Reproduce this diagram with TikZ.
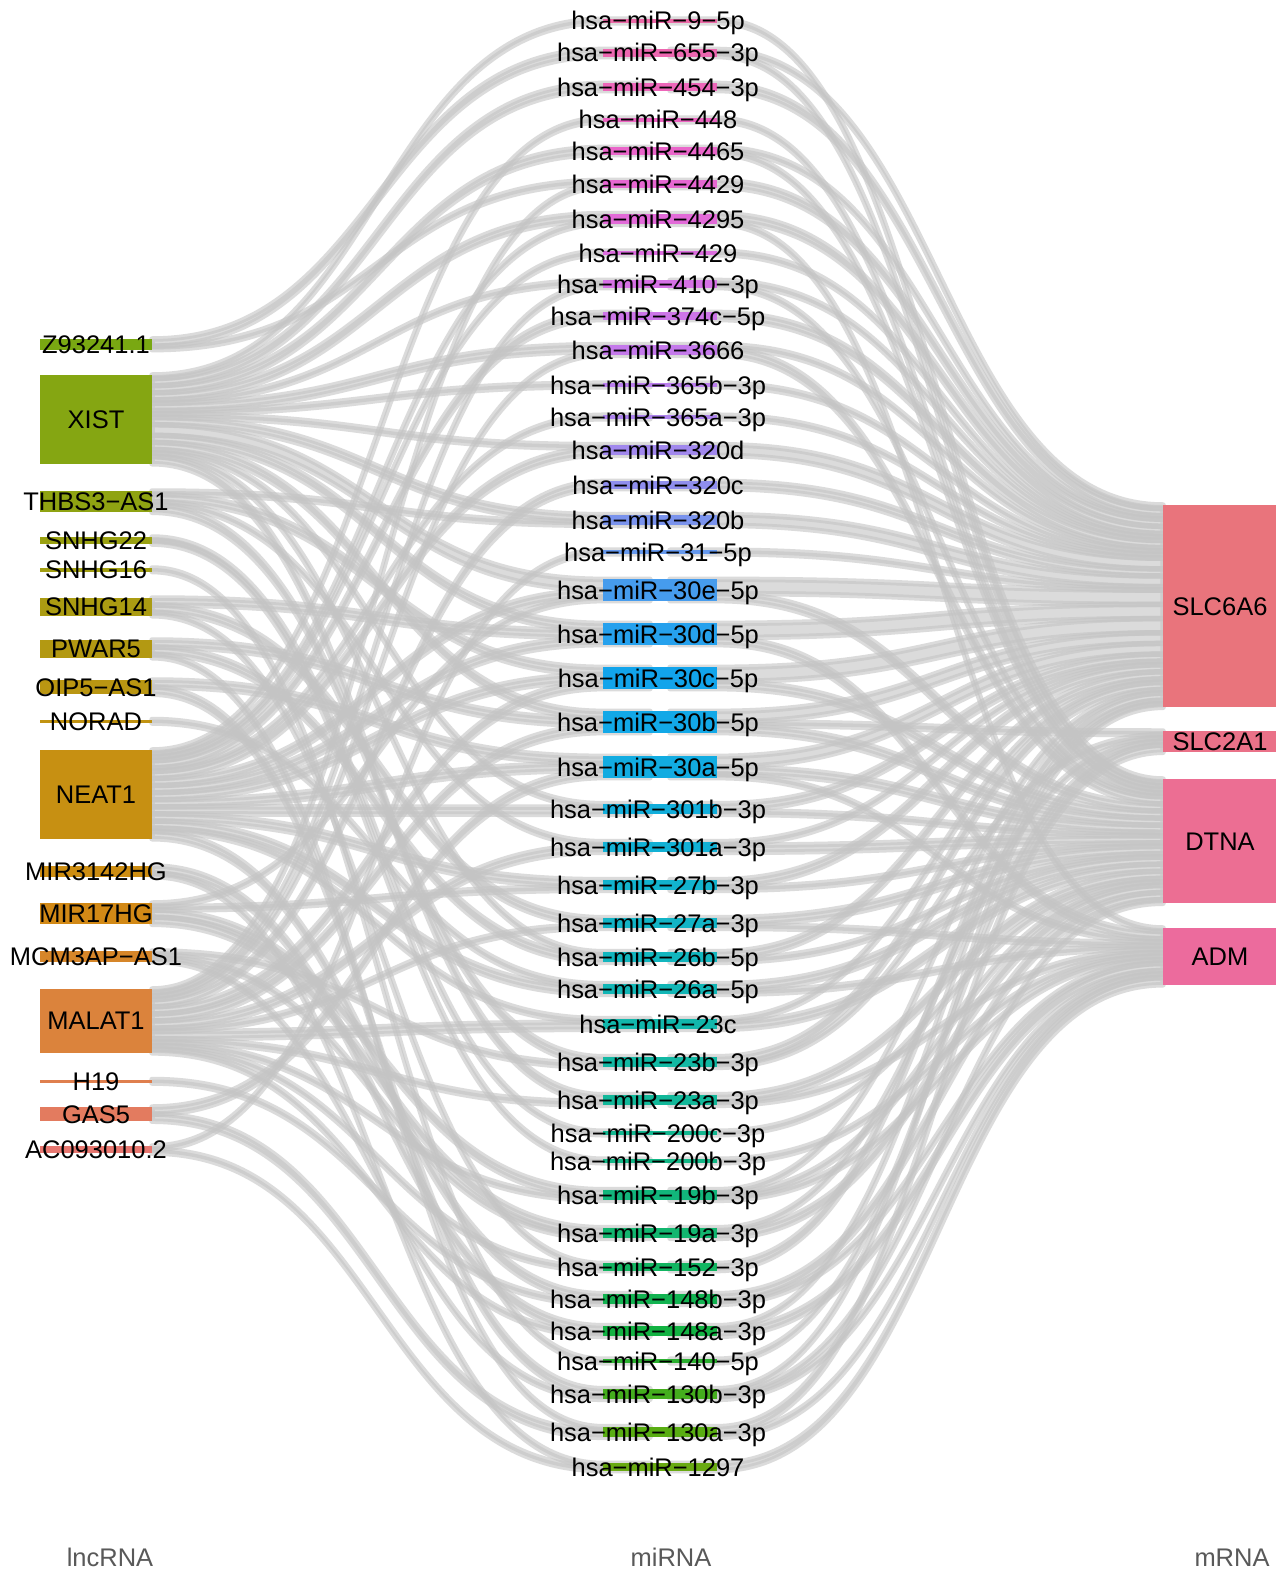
\documentclass[tikz,border=0pt]{standalone}
\usepackage{fontspec}
\setmainfont{Liberation Sans}
\usepackage{tikz}
\usetikzlibrary{positioning, calc}
% hue wheel anchors, every 15 degrees from 15 to 375
\definecolor{hc0}{HTML}{F8766D}
\definecolor{hc1}{HTML}{EC8239}
\definecolor{hc2}{HTML}{DE8C00}
\definecolor{hc3}{HTML}{CD9600}
\definecolor{hc4}{HTML}{B79F00}
\definecolor{hc5}{HTML}{9DA700}
\definecolor{hc6}{HTML}{7CAE00}
\definecolor{hc7}{HTML}{4CB500}
\definecolor{hc8}{HTML}{00BA38}
\definecolor{hc9}{HTML}{00BE67}
\definecolor{hc10}{HTML}{00C08B}
\definecolor{hc11}{HTML}{00C1A7}
\definecolor{hc12}{HTML}{00BFC4}
\definecolor{hc13}{HTML}{00BBDC}
\definecolor{hc14}{HTML}{00B4F0}
\definecolor{hc15}{HTML}{00A9FF}
\definecolor{hc16}{HTML}{619CFF}
\definecolor{hc17}{HTML}{A18CFF}
\definecolor{hc18}{HTML}{C77CFF}
\definecolor{hc19}{HTML}{E36FF6}
\definecolor{hc20}{HTML}{F564E3}
\definecolor{hc21}{HTML}{FF61CC}
\definecolor{hc22}{HTML}{FF64B0}
\definecolor{hc23}{HTML}{FD6C92}
\definecolor{hc24}{HTML}{F8766D}
\colorlet{axisgray}{black!65}
\colorlet{flowgray}{black!23}
\newcommand\lbfont{\fontsize{14.5pt}{16pt}\selectfont}
\def\unitpx{3.55}
% colour of the g-th level on the hue wheel (63 levels)
\newcommand\setnodecolor[1]{%
  \pgfmathsetmacro\hueT{24*(#1)/63}%
  \pgfmathtruncatemacro\hueN{floor(\hueT)}%
  \pgfmathtruncatemacro\hueM{\hueN+1}%
  \pgfmathsetmacro\hueP{100*(1+\hueN-\hueT)}%
  \colorlet{nc}{hc\hueN!\hueP!hc\hueM}%
  \colorlet{nc}{nc!86!gray}}
\pgfdeclarelayer{bg}
\pgfdeclarelayer{ribbons}
\pgfsetlayers{bg,ribbons,main}
\tikzset{
	lab/.style   ={anchor=base, inner sep=0pt, font=\lbfont},
	axlab/.style ={anchor=base, inner sep=0pt, font=\lbfont, text=axisgray},
	flow/.style  ={fill=flowgray, draw=flowgray, line width=0.11cm, line join=round, fill opacity=0.6, draw opacity=0.6},
}
\begin{document}
\begin{tikzpicture}[x=0.02cm, y=-0.02cm]
\useasboundingbox (0,0) rectangle (1286,1575);
\begin{pgfonlayer}{bg}
\fill[white] (0,0) rectangle (1286,1575);
\end{pgfonlayer}

% lncRNA strata
\foreach \i/\ty/\cnt/\nm in {1/339/3/Z93241.1, 2/375/25/XIST, 3/491/6/THBS3−AS1, 4/537/2/SNHG22, 5/568/1/SNHG16, 6/598/5/SNHG14, 7/640/5/PWAR5, 8/680/4/OIP5−AS1, 9/719.5/1/NORAD, 10/750/25/NEAT1, 11/866/3/MIR3142HG, 12/903/6/MIR17HG, 13/951/3/MCM3AP−AS1, 14/989/18/MALAT1, 15/1079.5/1/H19, 16/1107/4/GAS5, 17/1146/2/AC093010.2}{
  \setnodecolor{17-\i}
  \pgfmathsetmacro\yb{\ty+\cnt*\unitpx}
  \fill[nc] (40,\ty) rectangle (152,\yb);
  \node[lab] (lnc\i) at (96,{(\ty+\yb)/2+9}) {\nm};
  \expandafter\xdef\csname lo\i\endcsname{\ty}
}

% miRNA strata
\foreach \j/\yc/\cnt/\nm in {1/21/1/hsa−miR−9−5p, 2/53/2/hsa−miR−655−3p, 3/87/2/hsa−miR−454−3p, 4/120/1/hsa−miR−448, 5/151/2/hsa−miR−4465, 6/184/2/hsa−miR−4429, 7/219/3/hsa−miR−4295, 8/253/1/hsa−miR−429, 9/284/2/hsa−miR−410−3p, 10/316/2/hsa−miR−374c−5p, 11/350/3/hsa−miR−3666, 12/385/1/hsa−miR−365b−3p, 13/417/1/hsa−miR−365a−3p, 14/450/3/hsa−miR−320d, 15/485/2/hsa−miR−320c, 16/520/3/hsa−miR−320b, 17/552/1/hsa−miR−31−5p, 18/590/6/hsa−miR−30e−5p, 19/634/6/hsa−miR−30d−5p, 20/678/6/hsa−miR−30c−5p, 21/722/6/hsa−miR−30b−5p, 22/767/6/hsa−miR−30a−5p, 23/809/3/hsa−miR−301b−3p, 24/847/3/hsa−miR−301a−3p, 25/885/3/hsa−miR−27b−3p, 26/923/3/hsa−miR−27a−3p, 27/957/3/hsa−miR−26b−5p, 28/989/3/hsa−miR−26a−5p, 29/1024/3/hsa−miR−23c, 30/1062/3/hsa−miR−23b−3p, 31/1100/3/hsa−miR−23a−3p, 32/1133/1/hsa−miR−200c−3p, 33/1161/1/hsa−miR−200b−3p, 34/1195/3/hsa−miR−19b−3p, 35/1233/3/hsa−miR−19a−3p, 36/1267/2/hsa−miR−152−3p, 37/1299/3/hsa−miR−148b−3p, 38/1331/3/hsa−miR−148a−3p, 39/1361/1/hsa−miR−140−5p, 40/1394/3/hsa−miR−130b−3p, 41/1432/3/hsa−miR−130a−3p, 42/1467/2/hsa−miR−1297}{
  \setnodecolor{59-\j}
  \pgfmathsetmacro\ty{\yc-\cnt*\unitpx/2}
  \pgfmathsetmacro\yb{\yc+\cnt*\unitpx/2}
  \fill[nc] (603,\ty) rectangle (717,\yb);
  \node[lab] (mir\j) at (658,{\yc+9}) {\nm};
  \expandafter\xdef\csname mi\j\endcsname{\ty}
  \expandafter\xdef\csname mo\j\endcsname{\ty}
}

% mRNA strata
\foreach \k/\ty/\cnt/\nm in {1/505/57/SLC6A6, 2/731/6/SLC2A1, 3/779/35/DTNA, 4/928/16/ADM}{
  \setnodecolor{63-\k}
  \pgfmathsetmacro\yb{\ty+\cnt*\unitpx}
  \fill[nc] (1163,\ty) rectangle (1276,\yb);
  \node[lab] (mrna\k) at (1220,{(\ty+\yb)/2+9}) {\nm};
  \expandafter\xdef\csname ro\k\endcsname{\ty}
}

\begin{pgfonlayer}{ribbons}
% lncRNA -> miRNA: miRNA / {lncRNA/weight, ...}
\foreach \j/\lst in {1/{2/1}, 2/{1/2}, 3/{2/2}, 4/{10/1}, 5/{2/2}, 6/{1/1,14/1}, 7/{2/2,10/1}, 8/{10/1}, 9/{2/1,14/1}, 10/{10/2}, 11/{2/2,14/1}, 12/{2/1}, 13/{10/1}, 14/{2/1,10/2}, 15/{14/2}, 16/{2/2,3/1}, 17/{17/1}, 18/{2/3,10/2,12/1}, 19/{2/2,6/2,10/2}, 20/{3/2,10/2,14/2}, 21/{2/2,7/2,14/2}, 22/{8/2,10/2,16/2}, 23/{2/1,10/2}, 24/{3/1,14/2}, 25/{10/2,12/1}, 26/{6/2,14/1}, 27/{2/1,7/2}, 28/{9/1,10/2}, 29/{10/1,14/2}, 30/{3/2,13/1}, 31/{2/2,14/1}, 32/{4/1}, 33/{4/1}, 34/{12/2,14/1}, 35/{12/2,13/1}, 36/{6/1,14/1}, 37/{10/2,15/1}, 38/{11/2,14/1}, 39/{5/1}, 40/{8/2,13/1}, 41/{7/1,16/2}, 42/{11/1,17/1}}{
  \foreach \i/\w in \lst {
    \edef\ya{\csname lo\i\endcsname}
    \edef\ym{\csname mi\j\endcsname}
    \pgfmathsetmacro\yab{\ya+\w*\unitpx}
    \pgfmathsetmacro\ymb{\ym+\w*\unitpx}
    \filldraw[flow] (152,\ya) .. controls (377.5,\ya) and (377.5,\ym) .. (603,\ym) -- (650,\ym)
      -- (650,\ymb) -- (603,\ymb) .. controls (377.5,\ymb) and (377.5,\yab) .. (152,\yab) -- cycle;
    \expandafter\xdef\csname lo\i\endcsname{\yab}
    \expandafter\xdef\csname mi\j\endcsname{\ymb}
  }
}
% miRNA -> mRNA: miRNA / {mRNA/weight, ...}
\foreach \j/\lst in {1/{3/1}, 2/{1/1,3/1}, 3/{1/2}, 4/{3/1}, 5/{1/1,3/1}, 6/{1/2}, 7/{1/2,4/1}, 8/{1/1}, 9/{1/1,3/1}, 10/{1/2}, 11/{1/1,3/2}, 12/{1/1}, 13/{1/1}, 14/{1/3}, 15/{1/2}, 16/{1/3}, 17/{1/1}, 18/{1/4,3/2}, 19/{1/4,4/2}, 20/{1/4,3/2}, 21/{1/3,2/1,3/2}, 22/{1/3,3/2,4/1}, 23/{1/2,3/1}, 24/{1/1,3/2}, 25/{1/2,3/1}, 26/{3/2,4/1}, 27/{1/2,3/1}, 28/{3/2,4/1}, 29/{1/1,3/2}, 30/{1/2,2/1}, 31/{3/2,4/1}, 32/{3/1}, 33/{4/1}, 34/{1/1,3/1,4/1}, 35/{2/1,3/2}, 36/{1/2}, 37/{3/2,4/1}, 38/{1/1,4/2}, 39/{2/1}, 40/{1/1,3/1,4/1}, 41/{2/2,4/1}, 42/{4/2}}{
  \foreach \k/\w in \lst {
    \edef\ym{\csname mo\j\endcsname}
    \edef\yr{\csname ro\k\endcsname}
    \pgfmathsetmacro\ymb{\ym+\w*\unitpx}
    \pgfmathsetmacro\yrb{\yr+\w*\unitpx}
    \filldraw[flow] (670,\ym) -- (717,\ym) .. controls (940,\ym) and (940,\yr) .. (1163,\yr)
      -- (1163,\yrb) .. controls (940,\yrb) and (940,\ymb) .. (717,\ymb) -- (670,\ymb) -- cycle;
    \expandafter\xdef\csname mo\j\endcsname{\ymb}
    \expandafter\xdef\csname ro\k\endcsname{\yrb}
  }
}
\end{pgfonlayer}

% axis titles
\node[axlab] (axl) at (110,1566) {lncRNA};
\node[axlab] (axm) at (671,1566) {miRNA};
\node[axlab] (axr) at (1232,1566) {mRNA};
\end{tikzpicture}
\end{document}
